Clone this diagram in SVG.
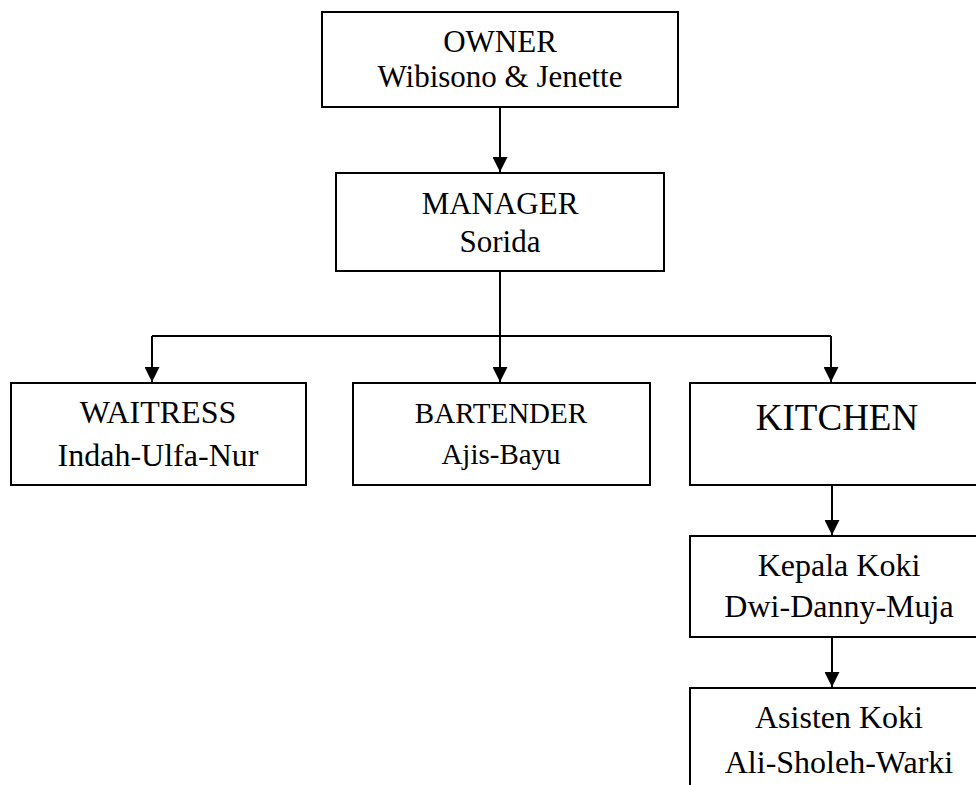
<svg xmlns="http://www.w3.org/2000/svg" width="976" height="785" viewBox="0 0 976 785">
<style>
.box{fill:#fff;stroke:#000;stroke-width:2}
.t{font-family:"Liberation Serif","Times New Roman",serif;fill:#000;text-anchor:middle}
.c{fill:none;stroke:#000;stroke-width:2}
</style>
<defs>
<marker id="ah" markerUnits="userSpaceOnUse" markerWidth="15" markerHeight="15" refX="15" refY="7.5" orient="auto">
<path d="M0,0 L15,7.5 L0,15 z" fill="#000"/>
</marker>
</defs>
<rect width="976" height="785" fill="#fff"/>
<g id="connectors">
<path class="c" d="M500,107 V172" marker-end="url(#ah)"/>
<path class="c" d="M500,271 V382" marker-end="url(#ah)"/>
<path class="c" d="M152,336 H831"/>
<path class="c" d="M152,336 V382" marker-end="url(#ah)"/>
<path class="c" d="M831,336 V382" marker-end="url(#ah)"/>
<path class="c" d="M832,485 V535" marker-end="url(#ah)"/>
<path class="c" d="M832,637 V687" marker-end="url(#ah)"/>
</g>
<g id="owner">
<rect class="box" x="322" y="12" width="356" height="95"/>
<text class="t" x="500" y="52" font-size="31">OWNER</text>
<text class="t" x="500" y="87" font-size="31">Wibisono &amp; Jenette</text>
</g>
<g id="manager">
<rect class="box" x="336" y="173" width="328" height="98"/>
<text class="t" x="500" y="214" font-size="31">MANAGER</text>
<text class="t" x="500" y="252" font-size="31">Sorida</text>
</g>
<g id="waitress">
<rect class="box" x="11" y="383" width="295" height="102"/>
<text class="t" x="158" y="423" font-size="32">WAITRESS</text>
<text class="t" x="158" y="466" font-size="32">Indah-Ulfa-Nur</text>
</g>
<g id="bartender">
<rect class="box" x="353" y="383" width="297" height="102"/>
<text class="t" x="501" y="423" font-size="29">BARTENDER</text>
<text class="t" x="501" y="464" font-size="29">Ajis-Bayu</text>
</g>
<g id="kitchen">
<rect class="box" x="690" y="383" width="300" height="102"/>
<text class="t" x="837" y="430" font-size="37">KITCHEN</text>
</g>
<g id="kepala-koki">
<rect class="box" x="690" y="536" width="300" height="101"/>
<text class="t" x="839" y="576" font-size="32">Kepala Koki</text>
<text class="t" x="839" y="617" font-size="32">Dwi-Danny-Muja</text>
</g>
<g id="asisten-koki">
<rect class="box" x="690" y="688" width="300" height="110"/>
<text class="t" x="839" y="728" font-size="32">Asisten Koki</text>
<text class="t" x="839" y="773" font-size="32">Ali-Sholeh-Warki</text>
</g>
</svg>
